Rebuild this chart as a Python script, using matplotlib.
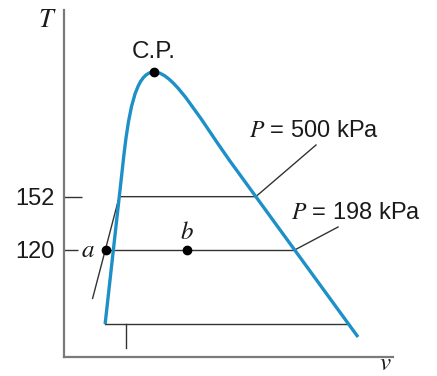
import matplotlib
matplotlib.use("Agg")
import matplotlib.pyplot as plt
from matplotlib.path import Path
from matplotlib.patches import PathPatch

plt.rcParams["font.family"] = ["Liberation Sans", "DejaVu Sans"]
plt.rcParams["mathtext.fontset"] = "stix"

# Temperature ticks (°C)
t_ticks = [120, 152]
t_labels = ["120", "152"]

# Saturation dome (v, T): straight liquid branch, Bezier crest, straight vapour branch
dome_v = [1.25, 1.787, 1.95, 2.158, 2.74, 3.374, 4.255, 5.198, 8.936]
dome_T = [75.6, 171.0, 201.0, 226.8, 226.8, 226.8, 194.4, 169.2, 67.8]
dome_codes = [Path.MOVETO, Path.LINETO, Path.CURVE4, Path.CURVE4, Path.CURVE4,
              Path.CURVE4, Path.CURVE4, Path.CURVE4, Path.LINETO]
cp_v, cp_T = 2.74, 226.8

# Isobars across the dome
iso500_v = [0.87, 1.68, 5.83]
iso500_T = [91.0, 152.0, 152.0]
iso198_v = [1.27, 7.01]
iso198_T = [120.0, 120.0]
low_v = [1.25, 8.65]
low_T = [75.6, 75.6]
mark_v = [1.88, 1.88]
mark_T = [75.6, 61.2]

# States a and b
state_v = [1.27, 3.74]
state_T = [120.0, 120.0]
state_names = ["a", "b"]

# Leader lines for the pressure labels
lead500_v = [5.83, 7.66]
lead500_T = [152.0, 183.0]
lead198_v = [7.01, 8.33]
lead198_T = [120.0, 133.8]

blue = "#1e90c8"
ink = "#333333"
txt = "#1a1a1a"
axis_gray = "#7a7a7a"

fig = plt.figure(figsize=(4.37, 3.76), dpi=100)
ax = fig.add_axes([64 / 437, 1 - 357 / 376, (393 - 64) / 437, (357 - 10) / 376])
ax.set_xlim(0, 10)
ax.set_ylim(55.8, 264.0)

for side in ("top", "right"):
    ax.spines[side].set_visible(False)
for side in ("left", "bottom"):
    ax.spines[side].set_color(axis_gray)
    ax.spines[side].set_linewidth(1.6)

ax.set_xticks([])
ax.set_yticks([t_ticks[1]])
ax.set_yticklabels([t_labels[1]])
ax.set_yticks([t_ticks[0]], minor=True)
ax.set_yticklabels([t_labels[0]], minor=True)
ax.tick_params(axis="y", which="major", direction="in", length=13, width=1.0,
               color=ink, labelsize=17, pad=6.5, labelcolor=txt)
ax.tick_params(axis="y", which="minor", direction="in", length=10, width=1.0,
               color=ink, labelsize=17, pad=6.5, labelcolor=txt)

lw_thin = 1.0
ax.plot(iso500_v, iso500_T, color=ink, lw=lw_thin)
ax.plot(iso198_v, iso198_T, color=ink, lw=lw_thin)
ax.plot(low_v, low_T, color=ink, lw=lw_thin)
ax.plot(mark_v, mark_T, color=ink, lw=lw_thin)
ax.plot(lead500_v, lead500_T, color=ink, lw=lw_thin)
ax.plot(lead198_v, lead198_T, color=ink, lw=lw_thin)

dome = Path(list(zip(dome_v, dome_T)), dome_codes)
ax.add_patch(PathPatch(dome, facecolor="none", edgecolor=blue, lw=2.4,
                       capstyle="butt", joinstyle="round", zorder=3))

ax.plot([cp_v], [cp_T], "o", color="black", ms=6, zorder=4)
ax.plot(state_v, state_T, "o", color="black", ms=6, zorder=4, linestyle="none")

ax.text(cp_v, 239.0, "C.P.", ha="center", va="center", fontsize=17.5, color=txt)
ax.text(0.72, 120.0, "$" + state_names[0] + "$", ha="center", va="center",
        fontsize=18, color=txt)
ax.text(state_v[1], 131.0, "$" + state_names[1] + "$", ha="center", va="center",
        fontsize=18, color=txt)
ax.text(5.62, 191.4, "$P$ = 500 kPa", ha="left", va="center", fontsize=17,
        color=txt)
ax.text(6.90, 142.0, "$P$ = 198 kPa", ha="left", va="center", fontsize=17,
        color=txt)
ax.text(-0.52, 258.0, "$T$", ha="center", va="center", fontsize=19, color=txt)
ax.text(9.76, 45.0, "$v$", ha="center", va="bottom", fontsize=18, color=txt)

fig.savefig("out.png", dpi=100)
